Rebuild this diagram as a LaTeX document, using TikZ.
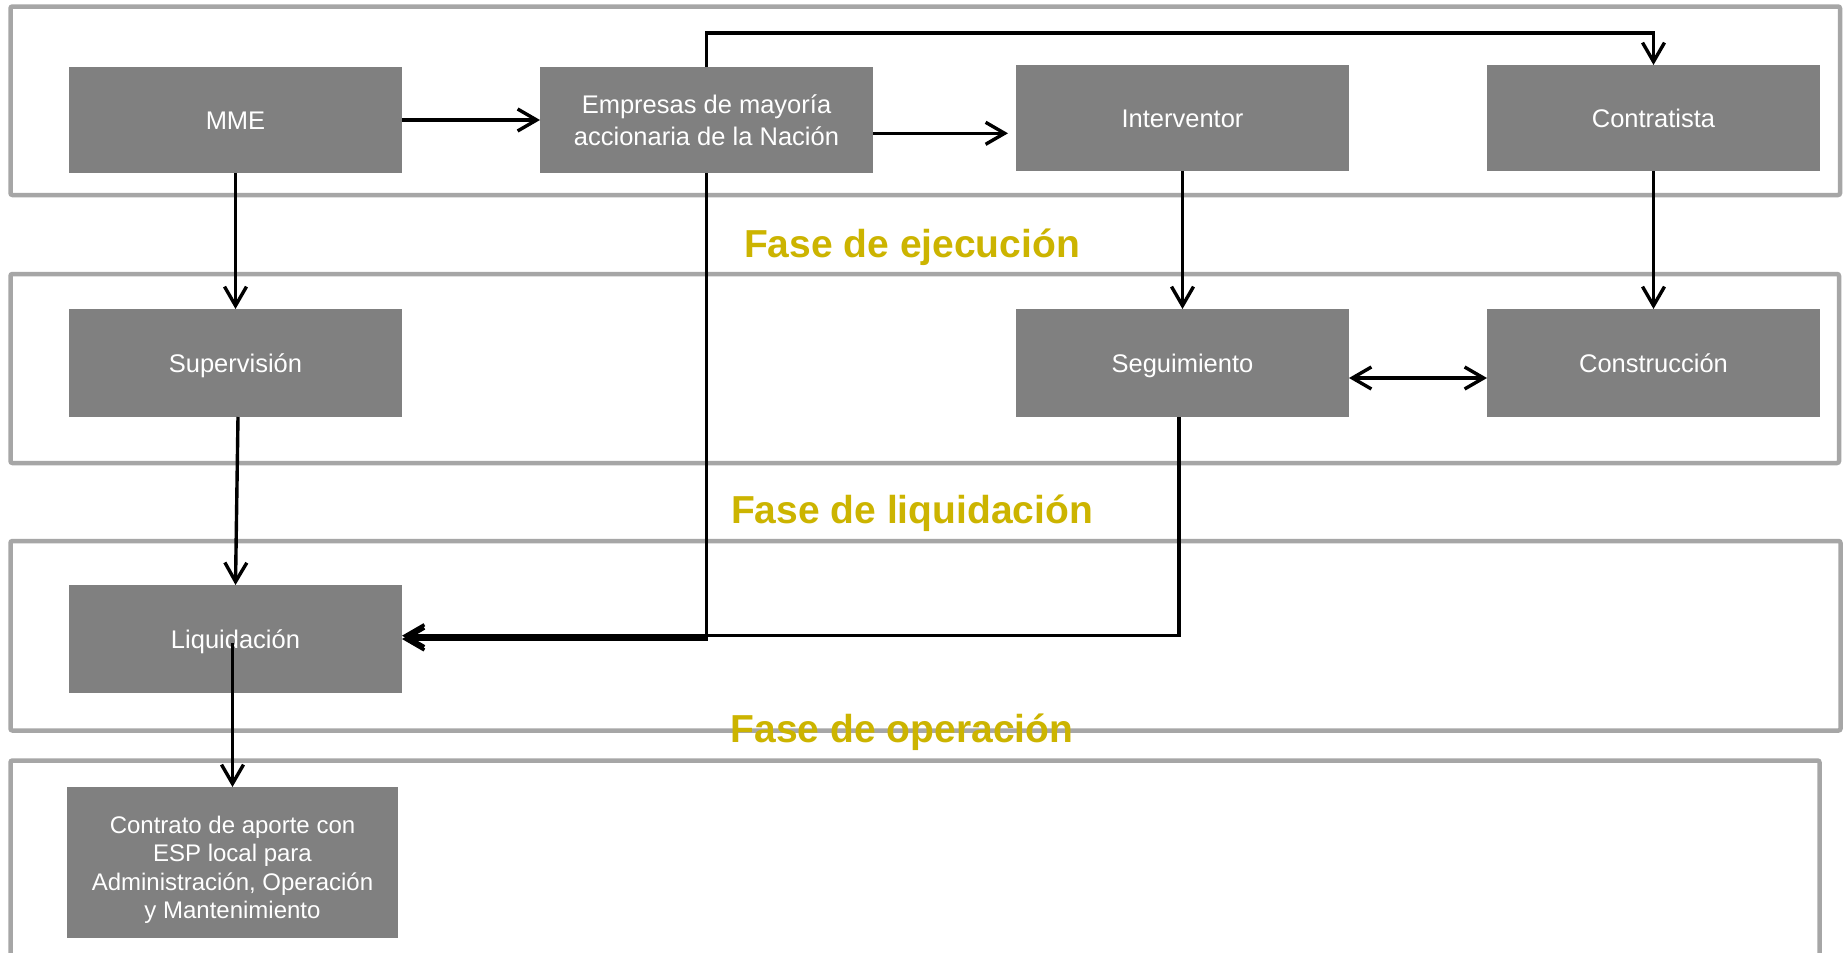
\documentclass[tikz,border=0pt]{standalone}
\usepackage{fontspec}
\setmainfont{Liberation Sans}
\usetikzlibrary{arrows.meta,calc}
\definecolor{boxgray}{HTML}{808080}
\definecolor{framegray}{HTML}{A6A6A6}
\definecolor{phasegold}{RGB}{204,180,0}
\begin{document}
\begin{tikzpicture}[x=1pt,y=-1pt,
  frame/.style={draw=framegray,line width=4.5pt,rounded corners=2pt},
  actor/.style={fill=boxgray,text=white,minimum width=333pt,minimum height=106pt,
    inner sep=0pt,outer sep=0pt,font=\fontsize{25.5}{31.7}\selectfont,align=center},
  oneline/.style={text height=18.3pt,text depth=0pt},
  phase/.style={text=phasegold,font=\fontsize{39}{45}\selectfont\bfseries,anchor=base,inner sep=0pt},
  arr/.style={line width=3.4pt,-{Straight Barb[length=19pt,width=22pt]}},
  dblarr/.style={line width=3.4pt,{Straight Barb[length=19pt,width=22pt]}-{Straight Barb[length=19pt,width=22pt]}}]
\useasboundingbox[fill=white] (0,0) rectangle (1845,953);
% phase frames
\draw[frame] (10.5,6.5) rectangle (1840,195);
\draw[frame] (10.5,274) rectangle (1839,463);
\draw[frame] (10.5,541) rectangle (1840.5,730.5);
\draw[frame] (10.5,953) -- (10.5,760.5) -- (1819.5,760.5) -- (1819.5,953);
% phase labels
\node[phase] (ph1) at (912,257.3) {Fase de ejecución};
\node[phase] (ph2) at (912,523.3) {Fase de liquidación};
\node[phase] (ph3) at (902,742) {Fase de operación};
% actors
\node[actor,oneline] (mme) at (235.5,120) {MME};
\node[actor] (emp) at (706.5,120) {Empresas de mayoría\\accionaria de la Nación};
\node[actor,oneline] (int) at (1182.5,118) {Interventor};
\node[actor,oneline] (ctr) at (1653.5,118) {Contratista};
\node[actor,oneline,minimum height=108pt] (sup) at (235.5,363) {Supervisión};
\node[actor,oneline,minimum height=108pt] (seg) at (1182.5,363) {Seguimiento};
\node[actor,oneline,minimum height=108pt] (cons) at (1653.5,363) {Construcción};
\node[actor,oneline,minimum height=108pt] (liq) at (235.5,639) {Liquidación};
\node[actor,minimum width=331pt,minimum height=151pt,
  font=\fontsize{24}{28.5}\selectfont] (con) at (232.5,862.5)
  {\rule{0pt}{31.5pt}Contrato de aporte con\\ESP local para\\Administración, Operación\\y Mantenimiento};
% connectors
\draw[arr] (mme) -- (emp);
\coordinate (e1) at ([yshift=-13.3pt]emp.east);
\draw[arr,shorten >=8pt] (e1) -- (e1 -| int.west);
\coordinate (topR) at ([yshift=32pt]ctr.north);
\draw[arr] (emp.north) |- (topR) -- (ctr.north);
\draw[arr] (mme.south) -- (sup.north);
\draw[arr] (int.south) -- (seg.north);
\draw[arr] (ctr.south) -- (cons.north);
\coordinate (d1) at ([yshift=-15pt]seg.east);
\draw[dblarr] (d1) -- (d1 -| cons.west);
\draw[arr] ([xshift=2.5pt]sup.south) -- (liq.north);
\draw[arr] (emp.south) |- (liq.east);
\coordinate (s0) at ([xshift=-3.5pt]seg.south);
\coordinate (s1) at ([yshift=3.3pt]liq.east);
\draw[arr] (s0) |- (s1);
\coordinate (lc) at ([yshift=-4pt]liq.center);
\draw[arr] (lc -| con.north) -- (con.north);
\end{tikzpicture}
\end{document}
